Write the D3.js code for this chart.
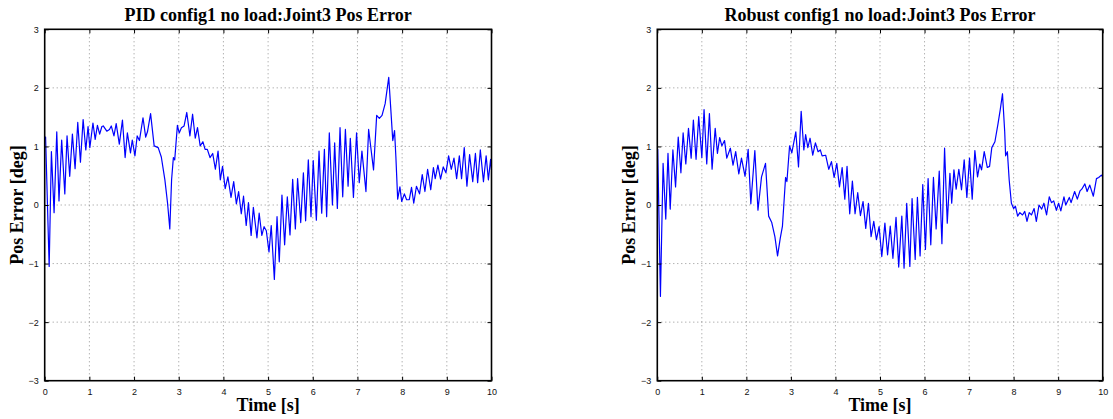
<!DOCTYPE html>
<html>
<head>
<meta charset="utf-8">
<script src="https://cdn.jsdelivr.net/npm/d3@7"></script>
<style>
  body { margin: 0; background: #fff; }
  svg { display: block; }
</style>
</head>
<body>
<div id="chart"></div>
<script>
// Joint3 position error
const xTicks = [0, 1, 2, 3, 4, 5, 6, 7, 8, 9, 10];
const yTicks = [-3, -2, -1, 0, 1, 2, 3];

const pidTime = [0, 0.02, 0.1, 0.15, 0.21, 0.27, 0.32, 0.38, 0.45, 0.5, 0.56, 0.62, 0.68, 0.74, 0.8, 0.86, 0.92, 0.97, 1.01,
  1.08, 1.13, 1.18, 1.23, 1.28, 1.31, 1.39, 1.45, 1.49, 1.55, 1.6, 1.67, 1.74, 1.8, 1.85, 1.92, 1.96, 2.02, 2.07, 2.12,
  2.2, 2.26, 2.3, 2.37, 2.45, 2.54, 2.61, 2.69, 2.75, 2.8, 2.84, 2.88, 2.91, 2.97, 3.01, 3.06, 3.12, 3.18, 3.25, 3.31,
  3.37, 3.42, 3.48, 3.54, 3.59, 3.64, 3.7, 3.76, 3.82, 3.88, 3.93, 3.98, 4.04, 4.1, 4.17, 4.23, 4.29, 4.34, 4.4, 4.45,
  4.51, 4.56, 4.62, 4.67, 4.75, 4.8, 4.86, 4.91, 4.96, 5.02, 5.07, 5.14, 5.2, 5.25, 5.31, 5.37, 5.43, 5.49, 5.55, 5.61,
  5.66, 5.73, 5.79, 5.84, 5.9, 5.96, 6.01, 6.08, 6.14, 6.2, 6.26, 6.31, 6.37, 6.44, 6.49, 6.55, 6.61, 6.67, 6.73, 6.79,
  6.84, 6.91, 6.98, 7.04, 7.1, 7.19, 7.25, 7.36, 7.43, 7.49, 7.55, 7.62, 7.7, 7.75, 7.79, 7.83, 7.86, 7.9, 7.95, 7.99,
  8.05, 8.1, 8.16, 8.21, 8.26, 8.32, 8.39, 8.45, 8.51, 8.57, 8.64, 8.7, 8.74, 8.8, 8.86, 8.92, 8.98, 9.04, 9.1, 9.16,
  9.22, 9.28, 9.33, 9.39, 9.45, 9.51, 9.58, 9.64, 9.69, 9.75, 9.82, 9.88, 9.93, 9.98, 10];
const pidError = [1.15, 1.16, -1.05, 0.91, -0.13, 1.25, 0.07, 1.11, 0.19, 1.18, 0.49, 1.21, 0.62, 1.41, 0.73, 1.46, 0.94, 1.34, 0.98,
  1.4, 1.12, 1.36, 1.21, 1.34, 1.35, 1.26, 1.29, 1.35, 1.18, 1.39, 1.04, 1.45, 0.81, 1.23, 0.89, 1.11, 0.84, 1.18, 1.1,
  1.49, 1.16, 1.25, 1.56, 1.01, 0.98, 0.82, 0.43, 0.03, -0.41, 0.43, 0.81, 0.77, 1.36, 1.23, 1.32, 1.35, 1.58, 1.18, 1.55,
  1.14, 1.32, 1.01, 1.08, 0.95, 0.95, 0.81, 0.88, 0.61, 0.92, 0.43, 0.66, 0.28, 0.48, 0.13, 0.4, 0.02, 0.23, -0.15, 0.15,
  -0.35, 0.04, -0.52, -0.04, -0.56, -0.14, -0.52, -0.37, -0.44, -0.8, -0.35, -1.27, -0.2, -0.97, 0.17, -0.68, 0.14, -0.51, 0.44, -0.41,
  0.45, -0.3, 0.55, -0.27, 0.77, -0.2, 0.76, -0.26, 0.92, -0.14, 0.95, -0.2, 1.23, 0, 1.06, -0.06, 1.32, 0.14, 1.29, 0.32,
  1.14, 0.13, 1.23, 0.38, 0.92, 0.23, 1.29, 0.6, 1.53, 1.48, 1.53, 1.73, 2.18, 1.59, 1.1, 1.27, 0.82, 0.1, 0.31, 0.06,
  0.19, 0.09, 0.09, 0.3, 0.03, 0.32, 0.19, 0.52, 0.23, 0.61, 0.26, 0.64, 0.45, 0.68, 0.44, 0.65, 0.55, 0.84, 0.61, 0.8,
  0.45, 0.84, 0.45, 0.98, 0.32, 0.86, 0.4, 0.88, 0.38, 0.94, 0.4, 0.84, 0.43, 0.78, 0.6];

const robustTime = [0, 0.01, 0.07, 0.13, 0.19, 0.24, 0.29, 0.35, 0.41, 0.47, 0.53, 0.58, 0.64, 0.7, 0.76, 0.81, 0.87, 0.93, 1.0,
  1.05, 1.11, 1.17, 1.23, 1.3, 1.35, 1.4, 1.45, 1.51, 1.56, 1.64, 1.7, 1.76, 1.83, 1.89, 1.97, 2.04, 2.1, 2.19, 2.26,
  2.34, 2.43, 2.5, 2.57, 2.64, 2.7, 2.76, 2.81, 2.88, 2.91, 2.97, 3.02, 3.11, 3.17, 3.23, 3.29, 3.33, 3.38, 3.43, 3.49,
  3.55, 3.61, 3.66, 3.7, 3.78, 3.85, 3.91, 3.97, 4.03, 4.09, 4.15, 4.21, 4.26, 4.32, 4.38, 4.44, 4.5, 4.56, 4.62, 4.68,
  4.74, 4.8, 4.86, 4.92, 4.98, 5.04, 5.11, 5.17, 5.23, 5.29, 5.36, 5.42, 5.49, 5.54, 5.6, 5.67, 5.72, 5.79, 5.84, 5.9,
  5.96, 6.02, 6.08, 6.14, 6.2, 6.26, 6.33, 6.39, 6.45, 6.51, 6.57, 6.61, 6.66, 6.71, 6.77, 6.83, 6.89, 6.95, 7.01, 7.07,
  7.13, 7.19, 7.24, 7.28, 7.34, 7.41, 7.46, 7.51, 7.58, 7.65, 7.7, 7.75, 7.8, 7.82, 7.86, 7.9, 7.95, 8.0, 8.04, 8.09,
  8.14, 8.2, 8.25, 8.3, 8.35, 8.4, 8.46, 8.51, 8.57, 8.63, 8.68, 8.74, 8.8, 8.85, 8.9, 8.96, 9.01, 9.06, 9.13, 9.17,
  9.25, 9.29, 9.37, 9.43, 9.49, 9.53, 9.6, 9.65, 9.71, 9.79, 9.86, 9.91, 9.97, 10];
const robustError = [0.95, 0.95, -1.56, 0.71, -0.24, 0.88, -0.07, 0.94, 0.31, 1.16, 0.55, 1.23, 0.7, 1.31, 0.8, 1.45, 0.78, 1.51, 0.81,
  1.63, 0.7, 1.56, 0.61, 1.31, 0.88, 1.15, 1.01, 1.1, 0.8, 0.97, 0.68, 0.91, 0.53, 0.8, 0.49, 0.95, 0.02, 0.93, -0.09,
  0.48, 0.71, -0.19, -0.3, -0.54, -0.87, -0.57, -0.36, 0.47, 0.4, 1.01, 0.89, 1.25, 0.65, 1.6, 0.94, 1.2, 0.98, 1.14, 0.85,
  1.06, 0.91, 0.94, 0.84, 0.85, 0.61, 0.74, 0.47, 0.71, 0.31, 0.64, 0.1, 0.66, -0.15, 0.41, -0.15, 0.21, -0.18, 0.06, -0.4,
  0.03, -0.54, -0.28, -0.59, -0.37, -0.88, -0.31, -0.85, -0.36, -0.91, -0.21, -1.06, -0.19, -1.08, 0.03, -1.05, 0.11, -0.93, 0.13, -0.87,
  0.35, -0.76, 0.45, -0.68, 0.47, -0.41, 0.58, -0.66, 0.97, -0.31, 0.54, 0.03, 0.6, 0.27, 0.61, 0.26, 0.77, 0.13, 0.8, 0.1,
  0.93, 0.48, 0.7, 0.6, 0.91, 0.64, 0.66, 0.98, 1.08, 1.39, 1.63, 1.9, 1.25, 0.84, 0.91, 0.43, 0.03, -0.06, -0.02, -0.19,
  -0.13, -0.17, -0.11, -0.28, -0.13, -0.17, -0.06, -0.28, 0, -0.07, 0.03, -0.17, 0.14, 0.04, 0.07, -0.09, 0.03, -0.1, 0.14, 0,
  0.13, 0.04, 0.23, 0.1, 0.24, 0.27, 0.36, 0.23, 0.34, 0.15, 0.45, 0.47, 0.51, 0.48];

const panels = [
  { title: 'PID config1 no load:Joint3 Pos Error', time: pidTime, error: pidError, left: 44.7, right: 491.5 },
  { title: 'Robust config1 no load:Joint3 Pos Error', time: robustTime, error: robustError, left: 657.3, right: 1102.7 }
];

const W = 1113, H = 419;
const plotTop = 29.3, plotBottom = 380.7;

const svg = d3.select('#chart').append('svg')
  .attr('width', W)
  .attr('height', H);

function renderPanel(p) {
  const x = d3.scaleLinear().domain([0, 10]).range([p.left, p.right]);
  const y = d3.scaleLinear().domain([-3, 3]).range([plotBottom, plotTop]);
  const g = svg.append('g');

  // dotted grid
  g.selectAll('.gx').data(xTicks.slice(1, -1)).enter().append('line')
    .attr('x1', d => x(d)).attr('x2', d => x(d))
    .attr('y1', plotTop).attr('y2', plotBottom)
    .attr('stroke', '#777').attr('stroke-width', 0.8)
    .attr('stroke-dasharray', '1,3');
  g.selectAll('.gy').data(yTicks.slice(1, -1)).enter().append('line')
    .attr('x1', p.left).attr('x2', p.right)
    .attr('y1', d => y(d)).attr('y2', d => y(d))
    .attr('stroke', '#777').attr('stroke-width', 0.8)
    .attr('stroke-dasharray', '1,3');

  // signal
  const pts = p.time.map((t, i) => [t, p.error[i]]);
  g.append('path')
    .datum(pts)
    .attr('fill', 'none')
    .attr('stroke', '#0000ff')
    .attr('stroke-width', 1.2)
    .attr('stroke-linejoin', 'round')
    .attr('d', d3.line().x(d => x(d[0])).y(d => y(d[1])));

  // axes, MATLAB style: ticks inward on all four sides
  const fmt = d3.format('');
  const tickStyle = sel => {
    sel.select('.domain').remove();
    sel.selectAll('.tick line').attr('stroke', '#000').attr('stroke-width', 1);
    sel.selectAll('.tick text')
      .attr('font-family', 'Liberation Sans, Helvetica, Arial, sans-serif')
      .attr('font-size', 9)
      .attr('fill', '#111');
  };

  g.append('g').attr('transform', `translate(0,${plotBottom})`)
    .call(d3.axisBottom(x).tickValues(xTicks).tickFormat(fmt).tickSizeInner(-4).tickPadding(8))
    .call(tickStyle);
  g.append('g').attr('transform', `translate(0,${plotTop})`)
    .call(d3.axisTop(x).tickValues(xTicks).tickFormat('').tickSizeInner(-4))
    .call(tickStyle);
  g.append('g').attr('transform', `translate(${p.left},0)`)
    .call(d3.axisLeft(y).tickValues(yTicks).tickFormat(d3.format('')).tickSizeInner(-4).tickPadding(6))
    .call(tickStyle);
  g.append('g').attr('transform', `translate(${p.right},0)`)
    .call(d3.axisRight(y).tickValues(yTicks).tickFormat('').tickSizeInner(-4))
    .call(tickStyle);

  // frame
  g.append('rect')
    .attr('x', p.left).attr('y', plotTop)
    .attr('width', p.right - p.left).attr('height', plotBottom - plotTop)
    .attr('fill', 'none').attr('stroke', '#000').attr('stroke-width', 1.6);

  const serif = 'Liberation Serif, Times New Roman, serif';
  const cx = (p.left + p.right) / 2;

  g.append('text')
    .attr('x', cx).attr('y', 21)
    .attr('text-anchor', 'middle')
    .attr('font-family', serif).attr('font-weight', 'bold').attr('font-size', 18)
    .text(p.title);

  g.append('text')
    .attr('x', cx).attr('y', 411)
    .attr('text-anchor', 'middle')
    .attr('font-family', serif).attr('font-weight', 'bold').attr('font-size', 18)
    .text('Time [s]');

  g.append('text')
    .attr('transform', `translate(${p.left - 22},${(plotTop + plotBottom) / 2}) rotate(-90)`)
    .attr('text-anchor', 'middle')
    .attr('font-family', serif).attr('font-weight', 'bold').attr('font-size', 18)
    .text('Pos Error [deg]');
}

panels.forEach(renderPanel);
</script>
</body>
</html>
